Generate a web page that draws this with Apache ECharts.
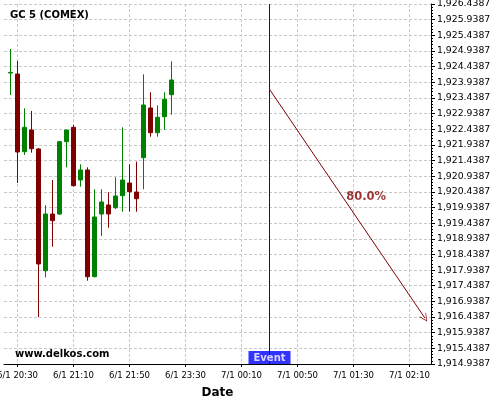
<!DOCTYPE html>
<html><head><meta charset="utf-8">
<script src="https://cdn.jsdelivr.net/npm/echarts@6/dist/echarts.min.js"></script>
<style>html,body{margin:0;padding:0;background:#fff}#c{width:500px;height:400px}</style>
</head><body><div id="c"></div>
<script>
// ---- data ----
const title = 'GC 5 (COMEX)';
const times = ['20:25','20:30','20:35','20:40','20:45','20:50','20:55','21:00','21:05','21:10','21:15','21:20','21:25','21:30','21:35','21:40','21:45','21:50','21:55','22:00','22:05','22:10','22:15','22:20'];
const opens  = [1924.234,1924.203,1921.721,1922.414,1921.807,1917.919,1919.730,1919.730,1922.040,1922.500,1920.816,1921.136,1917.727,1919.730,1920.018,1919.932,1920.315,1920.721,1920.433,1921.529,1923.117,1922.328,1922.839,1923.541];
const closes = [1924.254,1921.711,1922.500,1921.817,1918.134,1919.730,1919.516,1922.040,1922.414,1920.635,1921.136,1917.727,1919.635,1920.114,1919.730,1920.306,1920.816,1920.443,1920.219,1923.212,1922.328,1922.820,1923.395,1924.011];
const lows   = [1923.532,1920.721,1921.615,1921.689,1916.440,1917.708,1918.686,1919.698,1921.222,1920.609,1920.603,1917.600,1917.708,1919.028,1919.293,1919.890,1919.804,1919.804,1919.804,1920.520,1922.200,1922.200,1922.414,1922.903];
const highs  = [1925.001,1924.618,1923.107,1923.021,1921.839,1920.008,1920.816,1922.062,1922.414,1922.574,1921.318,1921.222,1920.520,1920.520,1920.424,1920.903,1922.500,1921.318,1921.401,1924.193,1923.618,1923.203,1923.618,1924.608];
const tickIdx    = [1, 9, 17, 25, 33, 41, 49, 57];
const tickLabels = ['6/1 20:30','6/1 21:10','6/1 21:50','6/1 23:30','7/1 00:10','7/1 00:50','7/1 01:30','7/1 02:10'];
const yBase = 1914.9387, yTop = 1926.4387, yStep = 0.5;
const eventIdx = 37, eventText = 'Event';
const arrowFrom = [37, 1923.714], arrowTo = [59.2, 1916.406];
const pctText = '80.0%', pctAt = [50.8, 1920.27];
const watermark = 'www.delkos.com';

// ---- build ----
function fmt(p){
  const s = p.toFixed(4); const parts = s.split('.');
  return parts[0].replace(/\B(?=(\d{3})+(?!\d))/g, ',') + '.' + parts[1];
}
const off = v => +(v - yBase).toFixed(6);
const candles = opens.map((o,i)=>[i, off(o), off(closes[i]), off(lows[i]), off(highs[i])]);
const labelMap = {}; tickIdx.forEach((t,k)=>labelMap[t]=tickLabels[k]);
const FONT = 'DejaVu Sans';
const chart = echarts.init(document.getElementById('c'), null, {renderer:'canvas'});
chart.setOption({
  animation:false,
  backgroundColor:'#fff',
  title:{text:title,left:10,top:10,padding:0,textStyle:{fontFamily:FONT,fontSize:10,fontWeight:'bold',color:'#000'}},
  grid:{left:4,right:69,top:4,bottom:36,containLabel:false,outerBoundsMode:'none'},
  graphic:[{type:'text',left:15,top:349,z:100,style:{text:watermark,font:'bold 10px "DejaVu Sans"',fill:'#000'}}],
  xAxis:{type:'value',min:-0.93,max:60.07,
    name:'Date',nameLocation:'middle',nameGap:23,
    nameTextStyle:{fontFamily:FONT,fontSize:12,fontWeight:'bold',color:'#000'},
    axisLine:{show:true,onZero:false,lineStyle:{color:'#000',width:1}},
    axisTick:{show:true,length:3,customValues:tickIdx,lineStyle:{color:'#000'}},
    axisLabel:{customValues:tickIdx,formatter:v=>labelMap[Math.round(v)]||'',fontFamily:FONT,fontSize:8.5,color:'#000',margin:7},
    splitLine:{show:true,lineStyle:{color:'#c8c8c8',type:[3,2],width:1}}
  },
  yAxis:{type:'value',position:'right',min:0,max:+(yTop-yBase).toFixed(4),interval:yStep,
    axisLine:{show:true,onZero:false,lineStyle:{color:'#000',width:1}},
    axisTick:{show:true,length:4,lineStyle:{color:'#000'}},
    minorTick:{show:true,splitNumber:5,length:2,lineStyle:{color:'#000'}},
    axisLabel:{formatter:v=>fmt(v+yBase),fontFamily:FONT,fontSize:9.3,color:'#000',margin:6},
    splitLine:{show:true,lineStyle:{color:'#c8c8c8',type:[3,2],width:1}}
  },
  series:[
    {type:'candlestick',data:candles,encode:{x:0,y:[1,2,3,4]},barWidth:4,
     itemStyle:{color:'#008000',color0:'#800000',borderColor:'#008000',borderColor0:'#800000',borderWidth:1}},
    {type:'scatter',symbolSize:0,silent:true,z:10,
     data:[[eventIdx,0]],
     label:{show:true,position:'top',distance:0,formatter:eventText,backgroundColor:'#0000ff',color:'#fff',
       fontFamily:FONT,fontSize:10,fontWeight:'bold',padding:[2,5,1,5]},
     markLine:{silent:true,symbol:['none','none'],label:{show:false},
       lineStyle:{color:'#0000ff',width:1,type:'solid'},data:[{xAxis:eventIdx}]}},
    {type:'scatter',symbolSize:0,silent:true,z:10,
     data:[[pctAt[0],off(pctAt[1])]],
     label:{show:true,position:'inside',formatter:pctText,color:'#800000',fontFamily:FONT,fontSize:11.5,fontWeight:'bold'},
     markLine:{silent:true,symbol:['none','path://M0,0L5,10L4.1,10L0,1.8L-4.1,10L-5,10Z'],symbolSize:[8,8],label:{show:false},
       lineStyle:{color:'#800000',width:1,type:'solid'},
       data:[[{coord:[arrowFrom[0],off(arrowFrom[1])]},{coord:[arrowTo[0],off(arrowTo[1])]}]]}}
  ]
});
</script></body></html>
